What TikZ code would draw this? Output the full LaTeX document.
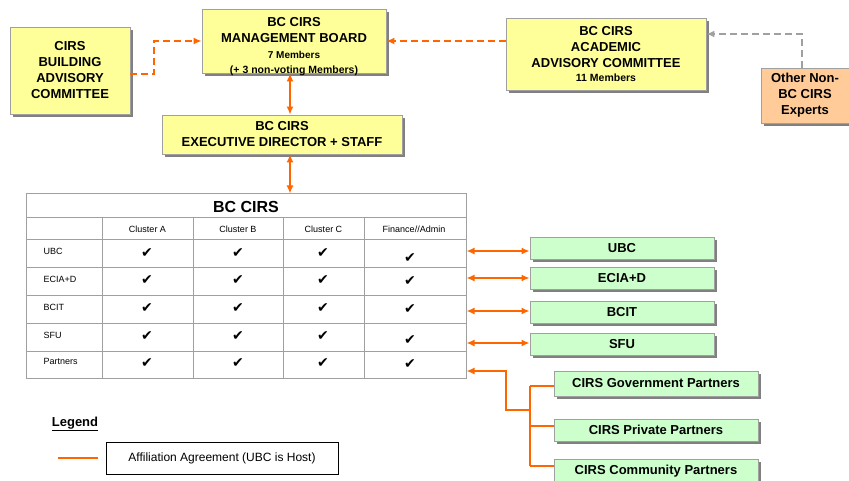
\documentclass[tikz,border=0pt]{standalone}
\usepackage{fontspec}
\setmainfont{Liberation Sans}
\newfontfamily\symfont{DejaVu Sans}
\usetikzlibrary{shadows,arrows.meta}
\definecolor{boxyellow}{HTML}{FFFF99}
\definecolor{boxgreen}{HTML}{CCFFCC}
\definecolor{boxorange}{HTML}{FFCC99}
\definecolor{lineorange}{HTML}{FF6600}
\definecolor{bordergray}{HTML}{A0A0A0}
\definecolor{shadowgray}{HTML}{808080}
\tikzset{
  base/.style={draw=bordergray, line width=0.8pt, inner sep=0pt, align=center,
    font=\bfseries\fontsize{13}{16}\selectfont,
    drop shadow={shadow xshift=3pt, shadow yshift=-3pt, fill=shadowgray, opacity=1}},
  ybox/.style={base, fill=boxyellow},
  gbox/.style={base, fill=boxgreen},
  obox/.style={base, fill=boxorange},
  oline/.style={draw=lineorange, line width=1.5pt},
  odash/.style={oline, dash pattern=on 7pt off 4pt},
  gdash/.style={draw=bordergray, line width=1.5pt, dash pattern=on 7pt off 4pt},
  onetip/.style={arrows={-Latex[length=8pt,width=7pt]}},
  twotips/.style={arrows={Latex[length=8pt,width=7pt]-Latex[length=8pt,width=7pt]}},
  tline/.style={draw=bordergray, line width=1pt},
  hdr/.style={font=\fontsize{9}{11}\selectfont},
  chk/.style={font=\symfont\fontsize{14}{16}\selectfont, inner sep=0pt},
}
\begin{document}
\begin{tikzpicture}[x=1pt,y=-1pt]
\useasboundingbox (0,0) rectangle (849,481);

% top boxes
\node[ybox, minimum width=120pt, minimum height=87pt] (build) at (70,70.5)
  {CIRS\\BUILDING\\ADVISORY\\COMMITTEE};
\node[ybox, minimum width=184pt, minimum height=64pt] (board) at (294,41) {};
\node[align=center, inner sep=0pt, font=\bfseries\fontsize{13}{16}\selectfont] (boardtxt) at (294,47)
  {BC CIRS\\MANAGEMENT BOARD\\[0pt]{\fontsize{10}{15}\selectfont 7 Members}\\[-1pt]{\fontsize{10.5}{15}\selectfont (+ 3 non-voting Members)}};
\node[ybox, minimum width=240pt, minimum height=39pt] (exec) at (282,134.5)
  {BC CIRS\\EXECUTIVE DIRECTOR + STAFF};
\node[ybox, minimum width=200pt, minimum height=72pt] (acad) at (606,54)
  {BC CIRS\\ACADEMIC\\ADVISORY COMMITTEE\\[-2pt]{\fontsize{10.5}{13}\selectfont 11 Members}};
\node[obox, minimum width=88pt, minimum height=55pt] (other) at (805,95.5)
  {Other Non-\\BC CIRS\\Experts};

% top connectors
\coordinate (bj) at (154,74);
\draw[odash, onetip] (build.east |- bj) -- (bj) -- (bj |- board.west) -- (board.west);
\draw[odash, onetip] (acad.west |- board.west) -- (board.east);
\coordinate (oj) at (802,34);
\draw[gdash, onetip] (other.north -| oj) -- (oj) -- (acad.east |- oj);
\coordinate (vx) at (290,0);
\draw[oline, twotips] (board.south -| vx) -- (exec.north -| vx);

% table
\node[draw=bordergray, line width=1pt, minimum width=440pt, minimum height=184pt, inner sep=0pt] (tbl) at (246,286) {};
\draw[oline, twotips] (exec.south -| vx) -- (tbl.north -| vx);
\node[font=\bfseries\fontsize{16}{18}\selectfont] (tbltitle) at (246,207) {BC CIRS};
\foreach \yy in {218,240,268,295,323,351} \draw[tline] (26,\yy) -- (466,\yy);
\foreach \xx in {102,193,283,364} \draw[tline] (\xx,218) -- (\xx,378);
\node[hdr] (hA) at (147.5,229) {Cluster A};
\node[hdr] (hB) at (238,229) {Cluster B};
\node[hdr] (hC) at (323.5,229) {Cluster C};
\node[hdr] (hF) at (414,229) {Finance//Admin};
\foreach \yy/\lab [count=\i] in {251/UBC,279/ECIA+D,307/BCIT,335/SFU,361/Partners}
  \node[hdr, anchor=west] (row\i) at (40,\yy) {\lab};
\foreach \yy/\yf [count=\i] in {253/258,280/281,308/309,336/340,363/364} {
  \node[chk] (cA\i) at (147,\yy) {✔};
  \node[chk] (cB\i) at (238,\yy) {✔};
  \node[chk] (cC\i) at (323,\yy) {✔};
  \node[chk] (cF\i) at (410,\yf) {✔};
}

% green boxes
\node[gbox, minimum width=184pt, minimum height=22pt] (ubc) at (622,248) {UBC};
\node[gbox, minimum width=184pt, minimum height=22pt] (ecia) at (622,278) {ECIA+D};
\node[gbox, minimum width=184pt, minimum height=22pt] (bcit) at (622,312) {BCIT};
\node[gbox, minimum width=184pt, minimum height=22pt] (sfu) at (622,344) {SFU};
\node[gbox, minimum width=204pt, minimum height=25pt] (gov) at (656,383.5) {CIRS Government Partners};
\node[gbox, minimum width=204pt, minimum height=22pt] (priv) at (656,430) {CIRS Private Partners};
\node[gbox, minimum width=204pt, minimum height=25pt] (comm) at (656,471.5) {CIRS Community Partners};

\foreach \bx/\yy in {ubc/251,ecia/278,bcit/311,sfu/343} {
  \coordinate (a\bx) at (0,\yy);
  \draw[oline, twotips] (tbl.east |- a\bx) -- (\bx.west |- a\bx);
}

\coordinate (pj) at (506,371);
\coordinate (bus) at (530,410);
\draw[oline, onetip] (bus) -- (pj |- bus) -- (pj) -- (tbl.east |- pj);
\coordinate (sgov) at (0,386);
\coordinate (spriv) at (0,426);
\coordinate (scomm) at (0,466);
\draw[oline] (bus |- sgov) -- (bus |- scomm);
\foreach \bx in {gov,priv,comm}
  \draw[oline] (bus |- s\bx) -- (\bx.west |- s\bx);

% legend
\node[font=\bfseries\fontsize{13}{15}\selectfont] (leg) at (75,424) {\underline{Legend}};
\coordinate (l1) at (58,458);
\coordinate (l2) at (98,458);
\draw[oline] (l1) -- (l2);
\node[draw=black, line width=0.8pt, minimum width=232pt, minimum height=32pt, inner sep=0pt,
  font=\fontsize{12}{14}\selectfont] (legbox) at (222,458) {Affiliation Agreement (UBC is Host)};
\end{tikzpicture}
\end{document}
